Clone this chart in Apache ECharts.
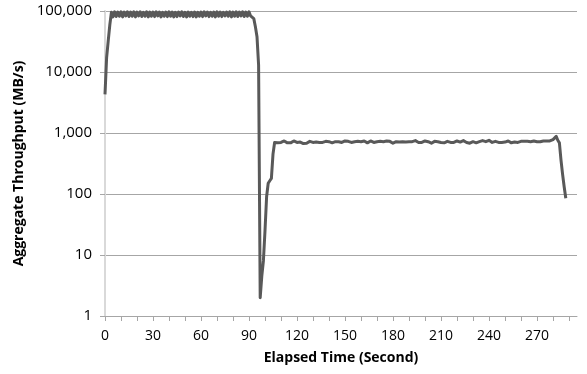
<!DOCTYPE html>
<html>
<head>
<meta charset="utf-8">
<script src="https://cdn.jsdelivr.net/npm/echarts@6/dist/echarts.min.js"></script>
<style>html,body{margin:0;padding:0;background:#fff}#c{width:587px;height:374px}</style>
</head>
<body>
<div id="c"></div>
<script>
// Aggregate throughput (MB/s), one sample per second starting at t = 0 s
const throughput = [
  4300, 17000, 32000, 59000, 95000,
  80000, 97000, 81000, 96000, 82000, 97000, 80000, 96000, 83000, 97000, 81000,
  96000, 82000, 97000, 80000, 96000, 83000, 97000, 81000, 95000, 82000, 97000,
  80000, 96000, 82000, 96000, 81000, 97000, 83000, 96000, 80000, 95000, 82000,
  96000, 81000, 97000, 82000, 96000, 80000, 95000, 81000, 96000, 83000, 97000,
  81000, 95000, 80000, 96000, 82000, 95000, 81000, 96000, 80000, 95000, 82000,
  96000, 81000, 97000, 83000, 96000, 81000, 95000, 82000, 96000, 80000, 97000,
  82000, 96000, 81000, 95000, 83000, 96000, 82000, 97000, 80000, 96000, 82000,
  97000, 81000, 96000, 83000, 97000, 81000, 96000, 82000, 97000, 83000,
  86000, 75000, 55000, 38000, 13000, 2, 4.5,
  8, 25, 90, 150, 165, 180, 450,
  700, 720, 690, 710, 700, 730, 740, 710, 690, 670,
  690, 720, 740, 720, 700, 690, 710, 690, 670, 650,
  680, 710, 730, 720, 700, 700, 710, 690, 700, 720,
  700, 710, 730, 710, 720, 700, 690, 710, 720, 710,
  720, 700, 700, 720, 740, 720, 730, 720, 700, 700,
  720, 740, 730, 700, 720, 760, 740, 700, 690, 720,
  740, 720, 700, 710, 720, 750, 730, 700, 720, 710,
  740, 770, 730, 700, 680, 710, 720, 700, 710, 730,
  720, 700, 710, 740, 720, 700, 720, 760, 750, 710,
  700, 720, 700, 690, 740, 760, 720, 700, 680, 720,
  730, 710, 720, 740, 700, 680, 690, 710, 730, 720,
  700, 710, 700, 720, 740, 730, 710, 720, 750, 730,
  700, 690, 680, 700, 720, 710, 690, 700, 720, 740,
  750, 730, 720, 740, 760, 720, 700, 710, 730, 720,
  700, 710, 700, 690, 710, 730, 740, 710, 690, 700,
  710, 720, 700, 720, 730, 740, 730, 720, 730, 710,
  720, 730, 740, 730, 720, 740, 720, 730, 740, 760,
  740, 750, 740, 760, 780, 800, 880,
  760, 690, 360, 210, 130, 85
];
const startSecond = 0;
const xTickValues = [0,10,20,30,40,50,60,70,80,90,100,110,120,130,140,150,160,170,180,190,200,210,220,230,240,250,260,270,280,290];
const xLabelValues = [0,30,60,90,120,150,180,210,240,270];
const xMax = 295;
const yMin = 1, yMax = 100000;

const points = throughput.map((v, i) => [startSecond + i, v]);

const FONT = '"Open Sans", "Liberation Sans", sans-serif';
const chart = echarts.init(document.getElementById('c'));
chart.setOption({
  animation: false,
  backgroundColor: '#ffffff',
  grid: { left: 105, right: 10, top: 11, bottom: 58, containLabel: false },
  xAxis: {
    type: 'value', min: 0, max: xMax,
    name: 'Elapsed Time (Second)', nameLocation: 'middle', nameGap: 35,
    nameTextStyle: { fontFamily: FONT, fontSize: 14, fontWeight: 'bold', color: '#000' },
    axisLine: { show: true, lineStyle: { color: '#a6a6a6', width: 1 } },
    axisTick: { show: true, length: 5, customValues: xTickValues, lineStyle: { color: '#a6a6a6' } },
    axisLabel: { customValues: xLabelValues, margin: 13, fontFamily: FONT, fontSize: 14, color: '#000' },
    splitLine: { show: false }
  },
  yAxis: {
    type: 'log', logBase: 10, min: yMin, max: yMax,
    name: 'Aggregate Throughput (MB/s)', nameLocation: 'middle', nameGap: 73, nameRotate: 90,
    nameTextStyle: { fontFamily: FONT, fontSize: 14, fontWeight: 'bold', color: '#000' },
    axisLine: { show: true, lineStyle: { color: '#d9d9d9', width: 2 } },
    axisTick: { show: true, length: 5, lineStyle: { color: '#a6a6a6' } },
    axisLabel: { margin: 13, fontFamily: FONT, fontSize: 15, color: '#000',
      formatter: v => Number(v).toLocaleString('en-US') },
    splitLine: { show: true, lineStyle: { color: '#a6a6a6', width: 1 } }
  },
  series: [{
    type: 'line', data: points, showSymbol: false, symbol: 'none',
    lineStyle: { color: '#595959', width: 3, join: 'round' },
    z: 3
  }]
});
</script>
</body>
</html>
